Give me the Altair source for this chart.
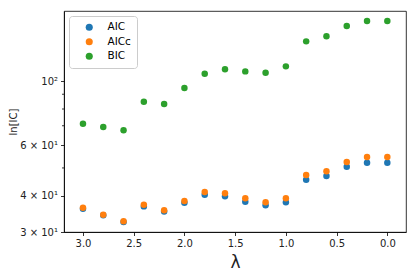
import altair as alt
import pandas as pd

lam = [3.0, 2.8, 2.6, 2.4, 2.2, 2.0, 1.8, 1.6, 1.4, 1.2, 1.0, 0.8, 0.6, 0.4, 0.2, 0.0]
aic = [36.1, 34.3, 32.5, 36.8, 35.3, 37.9, 40.4, 39.9, 38.2, 37.1, 38.0, 45.5, 46.9, 50.5, 52.1, 52.1]
aicc = [36.4, 34.4, 32.7, 37.3, 35.7, 38.4, 41.3, 40.9, 39.3, 38.0, 39.3, 47.3, 48.7, 52.4, 54.6, 54.6]
bic = [71.1, 69.3, 67.5, 84.8, 83.2, 94.6, 106.0, 109.8, 108.0, 106.8, 112.4, 137.2, 142.9, 155.1, 161.4, 161.4]

series = ["AIC", "AICc", "BIC"]
colors = ["#1f77b4", "#ff7f0e", "#2ca02c"]
y_major = [30, 40, 60, 100]
y_minor = [50, 70, 80, 90]
x_ticks = [0.0, 0.5, 1.0, 1.5, 2.0, 2.5, 3.0]

rows = []
for name, vals in zip(series, [aic, aicc, bic]):
    for l, v in zip(lam, vals):
        rows.append({"lam": l, "ic": v, "series": name})
df = pd.DataFrame(rows)
minor_df = pd.DataFrame({"m": y_minor})

xscale = alt.Scale(domain=[-0.184, 3.187], reverse=True, nice=False, zero=False)
yscale = alt.Scale(type="log", domain=[30, 174.8], nice=False)

label_expr = ("datum.value == 30 ? '3 × 10¹' : datum.value == 40 ? '4 × 10¹' : "
              "datum.value == 60 ? '6 × 10¹' : datum.value == 100 ? '10²' : ''")

points = alt.Chart(df).mark_circle(size=42, opacity=1).encode(
    x=alt.X("lam:Q", scale=xscale,
            axis=alt.Axis(values=x_ticks, format=".1f", title="λ", titleFontSize=17,
                          titleFontWeight="normal", titlePadding=6, grid=False)),
    y=alt.Y("ic:Q", scale=yscale,
            axis=alt.Axis(values=y_major, labelExpr=label_expr, title="ln[IC]",
                          titleFontSize=10, titleFontWeight="normal", titlePadding=1, grid=False)),
    color=alt.Color("series:N", scale=alt.Scale(domain=series, range=colors),
                    legend=alt.Legend(title=None, orient="top-left", offset=5,
                                      strokeColor="#cccccc", fillColor="rgba(255,255,255,0.8)",
                                      cornerRadius=3, padding=6, symbolOffset=9,
                                      labelOffset=13, rowPadding=3.5, symbolSize=50,
                                      symbolType="circle", labelFontSize=10.5,
                                      labelFont="DejaVu Sans")),
)

minor = alt.Chart(minor_df).mark_rule(color="black", strokeWidth=0.8).encode(
    x=alt.value(0), x2=alt.value(-2),
    y=alt.Y("m:Q", scale=yscale),
)

chart = alt.layer(points, minor).properties(
    width=342, height=221,
    autosize=alt.AutoSizeParams(type="none"),
    padding={"left": 56, "top": 3, "right": 2, "bottom": 39},
).configure_view(
    stroke="black", strokeWidth=0.8
).configure_axis(
    labelFont="DejaVu Sans", titleFont="DejaVu Sans", labelFontSize=10,
    labelColor="#222222", titleColor="#222222",
    domainColor="black", domainWidth=0.8, tickColor="black", tickWidth=0.8,
    tickSize=3.5, labelPadding=3,
)

chart.save("out.html", embed_options={"renderer": "svg", "actions": False})
